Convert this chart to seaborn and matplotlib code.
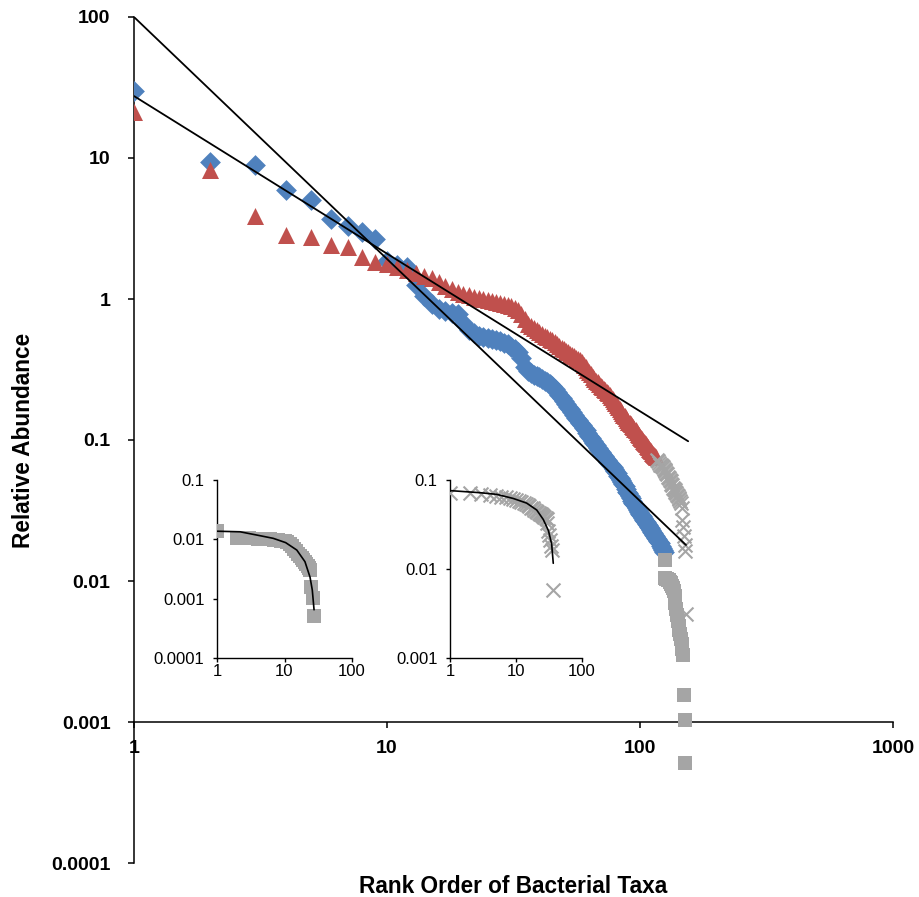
import numpy as np
import pandas as pd
import matplotlib
matplotlib.use("Agg")
import matplotlib.pyplot as plt
import seaborn as sns

# ---- rank-abundance data -------------------------------------------------
# Community A (blue diamonds), ranks 1..124
blue_values = [
    30, 9.4, 8.9, 5.9, 5.0, 3.7, 3.3, 3.0, 2.67, 1.85,
    1.75, 1.7, 1.25, 1.05, 0.92, 0.85, 0.82, 0.80, 0.78, 0.68,
    0.60, 0.57, 0.55, 0.54, 0.53, 0.52, 0.51, 0.50, 0.49, 0.48,
    0.46, 0.44, 0.42, 0.38, 0.33, 0.31, 0.30, 0.29, 0.285, 0.28,
    0.272, 0.264, 0.256, 0.248, 0.24, 0.229, 0.218, 0.208, 0.198, 0.189,
    0.180, 0.172, 0.165, 0.158, 0.151, 0.144, 0.138, 0.132, 0.127, 0.122,
    0.117, 0.112, 0.107, 0.103, 0.099, 0.095, 0.092, 0.088, 0.085, 0.082,
    0.079, 0.077, 0.074, 0.072, 0.070, 0.068, 0.066, 0.064, 0.062, 0.060,
    0.058, 0.056, 0.054, 0.052, 0.050, 0.049, 0.047, 0.045, 0.043, 0.042,
    0.040, 0.039, 0.037, 0.036, 0.035, 0.034, 0.033, 0.032, 0.031, 0.030,
    0.0295, 0.029, 0.028, 0.027, 0.0265, 0.026, 0.0254, 0.0248, 0.0242, 0.0236,
    0.023, 0.0224, 0.0218, 0.0212, 0.0207, 0.0202, 0.0197, 0.0193, 0.0189, 0.0185,
    0.0178, 0.0171, 0.0165, 0.016,
]
# Community B (red triangles), ranks 1..116
red_values = [
    21.3, 8.2, 3.9, 2.85, 2.74, 2.41, 2.35, 2.0, 1.84, 1.77,
    1.68, 1.6, 1.53, 1.46, 1.40, 1.32, 1.24, 1.18, 1.13, 1.09,
    1.06, 1.04, 1.02, 1.0, 0.98, 0.96, 0.95, 0.93, 0.92, 0.90,
    0.89, 0.87, 0.84, 0.78, 0.72, 0.67, 0.64, 0.62, 0.60, 0.58,
    0.565, 0.55, 0.535, 0.52, 0.51, 0.495, 0.48, 0.465, 0.452, 0.44,
    0.43, 0.42, 0.41, 0.40, 0.392, 0.384, 0.376, 0.368, 0.355, 0.342,
    0.329, 0.316, 0.304, 0.292, 0.281, 0.272, 0.264, 0.256, 0.249, 0.242,
    0.236, 0.23, 0.225, 0.22, 0.214, 0.208, 0.202, 0.196, 0.19, 0.184,
    0.178, 0.172, 0.166, 0.16, 0.155, 0.151, 0.147, 0.143, 0.139, 0.135,
    0.132, 0.129, 0.126, 0.123, 0.12, 0.117, 0.114, 0.111, 0.108, 0.105,
    0.103, 0.101, 0.099, 0.097, 0.095, 0.093, 0.091, 0.089, 0.087, 0.085,
    0.083, 0.081, 0.079, 0.078, 0.077, 0.076,
]
# Rare tail of community A (grey squares), following the blue ranks
blue_tail_values = [
    0.0140, 0.0105, 0.0104, 0.0103, 0.0102, 0.0101, 0.0099, 0.0097, 0.0095, 0.0092,
    0.0089, 0.0085, 0.0078, 0.0070, 0.0063, 0.0057, 0.0052, 0.0048, 0.0045, 0.0042,
    0.0039, 0.0036, 0.0033, 0.0030, 0.00155, 0.00103, 0.00051,
]
# Rare tail of community B (grey crosses), following the red ranks
red_tail_values = [
    0.072, 0.071, 0.069, 0.067, 0.066, 0.065, 0.064, 0.062, 0.061, 0.060,
    0.058, 0.057, 0.055, 0.054, 0.052, 0.051, 0.049, 0.048, 0.046, 0.045,
    0.044, 0.043, 0.042, 0.041, 0.040, 0.039, 0.038, 0.037, 0.036, 0.033,
    0.027, 0.024, 0.021, 0.018, 0.0163, 0.0058,
]

# Power-law trend lines (end points on the log-log axes)
blue_fit_ranks = [1, 152]
blue_fit_values = [100, 0.018]
red_fit_ranks = [1, 155]
red_fit_values = [27.5, 0.098]

# Fitted curves of the two rare tails (inset panels)
blue_tail_fit_ranks = [1, 2.2, 3.9, 6.8, 10.4, 15.2, 20.1, 23.9, 25.8, 27.4]
blue_tail_fit_values = [0.0137, 0.0134, 0.0118, 0.0104, 0.0088, 0.0066, 0.0042, 0.0023, 0.0014, 0.00065]
red_tail_fit_ranks = [1, 2.85, 5.1, 9.1, 14.5, 20.6, 25.9, 31, 34.7, 36.7]
red_tail_fit_values = [0.076, 0.072, 0.069, 0.062, 0.055, 0.046, 0.036, 0.027, 0.019, 0.0116]

# Tick positions and labels
main_x_ticks = [1, 10, 100, 1000]
main_x_labels = ["1", "10", "100", "1000"]
main_y_ticks = [0.0001, 0.001, 0.01, 0.1, 1, 10, 100]
main_y_labels = ["0.0001", "0.001", "0.01", "0.1", "1", "10", "100"]
inset_x_ticks = [1, 10, 100]
inset_x_labels = ["1", "10", "100"]
inset1_y_ticks = [0.0001, 0.001, 0.01, 0.1]
inset1_y_labels = ["0.0001", "0.001", "0.01", "0.1"]
inset2_y_ticks = [0.001, 0.01, 0.1]
inset2_y_labels = ["0.001", "0.01", "0.1"]

BLUE = "#4F81BD"
RED = "#C0504D"
GREY = "#A5A5A5"

# ---- tables --------------------------------------------------------------
blue_df = pd.DataFrame({"rank": np.arange(1, len(blue_values) + 1), "abundance": blue_values})
red_df = pd.DataFrame({"rank": np.arange(1, len(red_values) + 1), "abundance": red_values})
blue_tail_df = pd.DataFrame({
    "rank": len(blue_values) + np.arange(1, len(blue_tail_values) + 1),
    "tail_rank": np.arange(1, len(blue_tail_values) + 1),
    "abundance": blue_tail_values,
})
red_tail_df = pd.DataFrame({
    "rank": len(red_values) + np.arange(1, len(red_tail_values) + 1),
    "tail_rank": np.arange(1, len(red_tail_values) + 1),
    "abundance": red_tail_values,
})

sns.set_theme(style="white")
plt.rcParams["font.family"] = ["Liberation Sans", "DejaVu Sans"]

fig = plt.figure(figsize=(9.19, 8.97), dpi=100)
ax = fig.add_axes([134 / 919, 1 - 863 / 897, 759 / 919, 846 / 897])
ax.set_xscale("log")
ax.set_yscale("log")

# ---- main panel ----------------------------------------------------------
sns.scatterplot(data=blue_df, x="rank", y="abundance", marker="D", s=112,
                color=BLUE, linewidth=0, ax=ax, zorder=3)
sns.scatterplot(data=red_df, x="rank", y="abundance", marker="^", s=150,
                color=RED, linewidth=0, ax=ax, zorder=4)
sns.scatterplot(data=blue_tail_df, x="rank", y="abundance", marker="s", s=112,
                color=GREY, linewidth=0, ax=ax, zorder=5)
sns.scatterplot(data=red_tail_df, x="rank", y="abundance", marker="x", s=100,
                color=GREY, linewidth=1.5, ax=ax, zorder=6)
sns.lineplot(x=blue_fit_ranks, y=blue_fit_values, color="black", linewidth=1.3,
             ax=ax, zorder=7)
sns.lineplot(x=red_fit_ranks, y=red_fit_values, color="black", linewidth=1.3,
             ax=ax, zorder=7)

# axis frame: only left and a bottom axis crossing at 0.001
for side in ("top", "right"):
    ax.spines[side].set_visible(False)
for side in ("left", "bottom"):
    ax.spines[side].set_color("black")
    ax.spines[side].set_linewidth(1.1)
    ax.spines[side].set_zorder(2)
ax.spines["bottom"].set_position(("data", 0.001))

ax.set_xlim(1, 1000)
ax.set_ylim(0.0001, 100)
ax.set_xticks(main_x_ticks, labels=main_x_labels, fontsize=14, fontweight="bold")
ax.set_yticks(main_y_ticks, labels=main_y_labels, fontsize=14, fontweight="bold")
ax.minorticks_off()
ax.tick_params(axis="both", which="major", direction="out", length=4, width=1.1,
               color="black", labelcolor="black", bottom=True, left=True)
ax.tick_params(axis="x", pad=9)
ax.tick_params(axis="y", pad=13)

ax.set_xlabel("Rank Order of Bacterial Taxa", fontsize=16.3, fontweight="bold", color="black")
ax.xaxis.label.set_va("baseline")
ax.xaxis.set_label_coords(0.5, (863 - 893) / 846)
ax.set_ylabel("Relative Abundance", fontsize=16.3, fontweight="bold", color="black")
ax.yaxis.label.set_va("center")
ax.yaxis.set_label_coords((23 - 134) / 759, 0.5)


# ---- inset panels --------------------------------------------------------
def style_inset(axis, y_ticks, y_labels, y_lim):
    axis.set_facecolor("none")
    for side in ("top", "right"):
        axis.spines[side].set_visible(False)
    for side in ("left", "bottom"):
        axis.spines[side].set_color("black")
        axis.spines[side].set_linewidth(1.0)
    axis.set_xscale("log")
    axis.set_yscale("log")
    axis.set_xlim(1, 100)
    axis.set_ylim(*y_lim)
    axis.set_xticks(inset_x_ticks, labels=inset_x_labels, fontsize=12)
    axis.set_yticks(y_ticks, labels=y_labels, fontsize=12)
    axis.minorticks_off()
    axis.tick_params(axis="both", which="major", direction="out", length=3, width=1.0,
                     color="black", labelcolor="black", bottom=True, left=True)
    axis.tick_params(axis="x", pad=1)
    axis.tick_params(axis="y", pad=6)
    axis.set_xlabel("")
    axis.set_ylabel("")


ins1 = fig.add_axes([217 / 919, 1 - 658 / 897, 135 / 919, 178 / 897])
sns.scatterplot(data=blue_tail_df, x="tail_rank", y="abundance", marker="s", s=112,
                color=GREY, linewidth=0, ax=ins1, zorder=3)
sns.lineplot(x=blue_tail_fit_ranks, y=blue_tail_fit_values, color="black",
             linewidth=1.2, ax=ins1, zorder=4)
style_inset(ins1, inset1_y_ticks, inset1_y_labels, (0.0001, 0.1))

ins2 = fig.add_axes([450 / 919, 1 - 658 / 897, 132 / 919, 178 / 897])
sns.scatterplot(data=red_tail_df, x="tail_rank", y="abundance", marker="x", s=100,
                color=GREY, linewidth=1.5, ax=ins2, zorder=3)
sns.lineplot(x=red_tail_fit_ranks, y=red_tail_fit_values, color="black",
             linewidth=1.2, ax=ins2, zorder=4)
style_inset(ins2, inset2_y_ticks, inset2_y_labels, (0.001, 0.1))

fig.savefig("out.png", dpi=100)
